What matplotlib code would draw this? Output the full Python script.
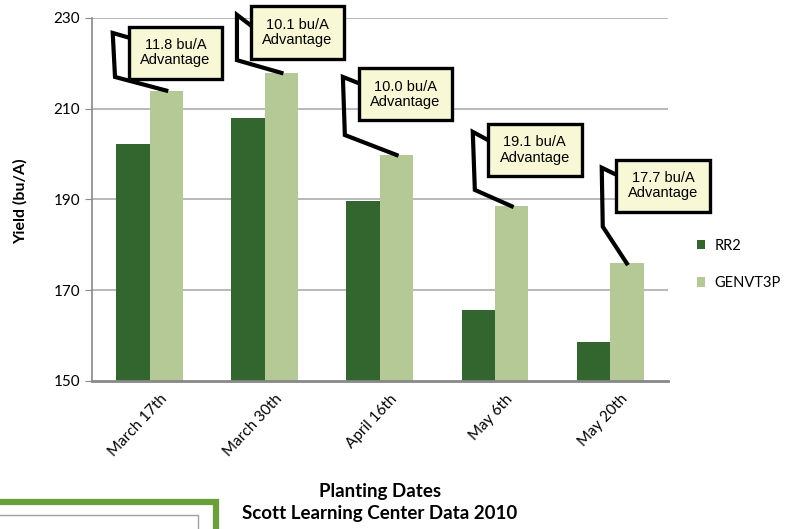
import matplotlib.pyplot as plt
import matplotlib.patches as mpatches
import matplotlib.transforms as mtransforms
import numpy as np

# planting dates and yields (bu/A)
dates = ['March 17th', 'March 30th', 'April 16th', 'May 6th', 'May 20th']
rr2 = [202.2, 208.0, 189.7, 165.6, 158.5]
genvt3p = [214.0, 217.9, 199.8, 188.5, 175.9]
advantage = ['11.8', '10.1', '10.0', '19.1', '17.7']

# callout layout: box centre (x offset from group, y) and leader knees
box_pos = [(0.225, 222.3), (0.284, 226.8), (0.221, 213.2), (0.345, 200.9), (0.461, 193.0)]
knees = [
    [(-0.17, 225.6), (-0.32, 226.7), (-0.30, 217.0)],
    [(-0.128, 228.5), (-0.241, 230.7), (-0.241, 220.7)],
    [(-0.191, 215.7), (-0.321, 217.0), (-0.304, 204.2)],
    [(-0.062, 203.1), (-0.193, 204.9), (-0.175, 192.1)],
    [(0.057, 195.4), (-0.073, 197.0), (-0.064, 184.0)],
]

dark = '#33662f'
light = '#b4c995'

fig = plt.figure(figsize=(7.93, 5.29), dpi=100)
ax = fig.add_axes([0.116, 0.280, 0.726, 0.686])

x = np.arange(len(dates))
w = 0.29
ax.bar(x - w / 2, rr2, w, color=dark, label='RR2', zorder=2)
ax.bar(x + w / 2, genvt3p, w, color=light, label='GENVT3P', zorder=2)

ax.set_xlim(-0.5, 4.5)
ax.set_ylim(150, 230)
ax.set_yticks([150, 170, 190, 210, 230])
for v in [170, 190, 210, 230]:
    ax.axhline(v, color='#a6a6a6', lw=1.1, zorder=1)

for s in ['top', 'right']:
    ax.spines[s].set_visible(False)
ax.spines['left'].set_color('#888888')
ax.spines['left'].set_linewidth(1.2)
ax.spines['bottom'].set_color('#888888')
ax.spines['bottom'].set_linewidth(2)
ax.tick_params(axis='y', colors='#888888', length=5, labelcolor='black', labelsize=11)
ax.tick_params(axis='x', length=0, labelsize=11, pad=8)
ax.set_xticks(x)
ax.set_xticklabels(dates, rotation=47, ha='right', rotation_mode='anchor', family='Lato')
shift = mtransforms.ScaledTranslation(7 / 72, 0, fig.dpi_scale_trans)
for lab in ax.get_xticklabels():
    lab.set_transform(lab.get_transform() + shift)
for lab in ax.get_yticklabels():
    lab.set_family('Lato')

# callouts
for i in range(len(dates)):
    tx, ty = i + w / 2, genvt3p[i]
    pts = [(i + dx, dy) for dx, dy in knees[i]] + [(tx, ty)]
    ax.plot([p[0] for p in pts], [p[1] for p in pts], color='black', lw=3,
            solid_joinstyle='miter', clip_on=False, zorder=4)
    bx, by = box_pos[i]
    ax.text(i + bx, by, advantage[i] + ' bu/A\nAdvantage', ha='center', va='center',
            family='Liberation Sans', fontsize=10.5, linespacing=1.1, zorder=5, clip_on=False,
            bbox=dict(boxstyle='square,pad=0.8', fc='#f8f8d6', ec='black', lw=2.4))

fig.text(0.026, 0.62, 'Yield (bu/A)', rotation=90, ha='center', va='center',
         family='Lato', fontweight='bold', fontsize=11.5)
fig.text(0.479, 0.07, 'Planting Dates', ha='center', va='center',
         family='Lato', fontweight='bold', fontsize=13.5)
fig.text(0.479, 0.03, 'Scott Learning Center Data 2010', ha='center', va='center',
         family='Lato', fontweight='bold', fontsize=13.5)

ax.legend(loc='center left', bbox_to_anchor=(0.862, 0.5), bbox_transform=fig.transFigure,
          frameon=False, handlelength=0.6, handleheight=0.6, handletextpad=0.6,
          labelspacing=1.6, prop={'family': 'Lato', 'size': 10.5})

# corner of a neighbouring slide graphic
fig.patches.append(mpatches.Rectangle((-0.01, -0.1), 0.282, 0.151, transform=fig.transFigure,
                                      fill=False, ec='#6aa03c', lw=4.5))
fig.patches.append(mpatches.Rectangle((-0.01, -0.1), 0.26, 0.126, transform=fig.transFigure,
                                      fill=False, ec='#a0a0a0', lw=1))

fig.savefig('out.png', dpi=100)
